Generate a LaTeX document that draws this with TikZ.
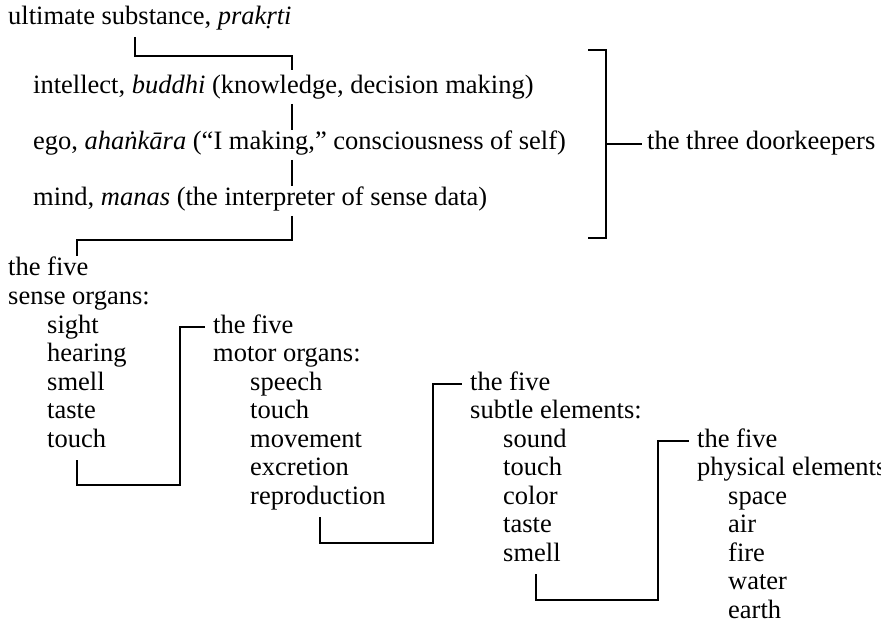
\documentclass[tikz,border=0pt]{standalone}
\usepackage{fontspec}
\setmainfont{Liberation Serif}
\usetikzlibrary{calc}

\tikzset{
  txt/.style={anchor=base west, inner sep=0pt, align=left, font=\fontsize{26.5}{28.5}\selectfont},
  link/.style={line width=1.5pt}
}

\begin{document}
\begin{tikzpicture}[x=1pt,y=-1pt]
   \useasboundingbox (0,0) rectangle (881,631);

   \node[txt] (ult)   at (8,25)   {ultimate substance, \textit{prakṛti}};
   \node[txt] (intel) at (33,94)  {intellect, \textit{buddhi} (knowledge, decision making)};
   \node[txt] (ego)   at (33,150) {ego, \textit{ahaṅkāra} (“I making,” consciousness of self)};
   \node[txt] (mind)  at (33,206) {mind, \textit{manas} (the interpreter of sense data)};
   \node[txt] (keepers) at (647,150) {the three doorkeepers};

   \node[txt] (sensehead)  at (8,304.5)   {the five\\sense organs:};
   \node[txt] (sense)      at (47,447)    {sight\\hearing\\smell\\taste\\touch};
   \node[txt] (motorhead)  at (213,361.5) {the five\\motor organs:};
   \node[txt] (motor)      at (250,504)   {speech\\touch\\movement\\excretion\\reproduction};
   \node[txt] (subtlehead) at (470,418.5) {the five\\subtle elements:};
   \node[txt] (subtle)     at (503,561)   {sound\\touch\\color\\taste\\smell};
   \node[txt] (physhead)   at (697,475.5) {the five\\physical elements:};
   \node[txt] (phys)       at (728,618)   {space\\air\\fire\\water\\earth};

   \draw[link] ($(ult.base west)+(127,12)$) -- ++(0,19) -| ($(intel.base west)+(259,-24)$);
   \draw[link] ($(intel.base west)+(259,10)$) -- ($(ego.base west)+(259,-20)$);
   \draw[link] ($(ego.base west)+(259,10)$) -- ($(mind.base west)+(259,-20)$);
   \draw[link] ($(mind.base west)+(259,10)$) -- ++(0,24) -| ($(sensehead.base west)+(69,-48.5)$);

   \coordinate (brtop) at (606,50);
   \coordinate (brbot) at (606,238);
   \draw[link] ($(brtop)+(-18,0)$) -- (brtop) -- (brbot) -- ($(brbot)+(-18,0)$);
   \draw[link] ($(keepers.base west)+(-41,-6)$) -- ($(keepers.base west)+(-5,-6)$);

   \draw[link] ($(sense.base west)+(30,13)$) -- ($(sense.base west)+(30,38)$)
      -| ($(motorhead.base west)+(-33,-34.5)$) -- ($(motorhead.base west)+(-8,-34.5)$);
   \draw[link] ($(motor.base west)+(70,13)$) -- ($(motor.base west)+(70,39)$)
      -| ($(subtlehead.base west)+(-37,-34.5)$) -- ($(subtlehead.base west)+(-8,-34.5)$);
   \draw[link] ($(subtle.base west)+(33,13)$) -- ($(subtle.base west)+(33,39)$)
      -| ($(physhead.base west)+(-39,-34.5)$) -- ($(physhead.base west)+(-8,-34.5)$);
\end{tikzpicture}
\end{document}
